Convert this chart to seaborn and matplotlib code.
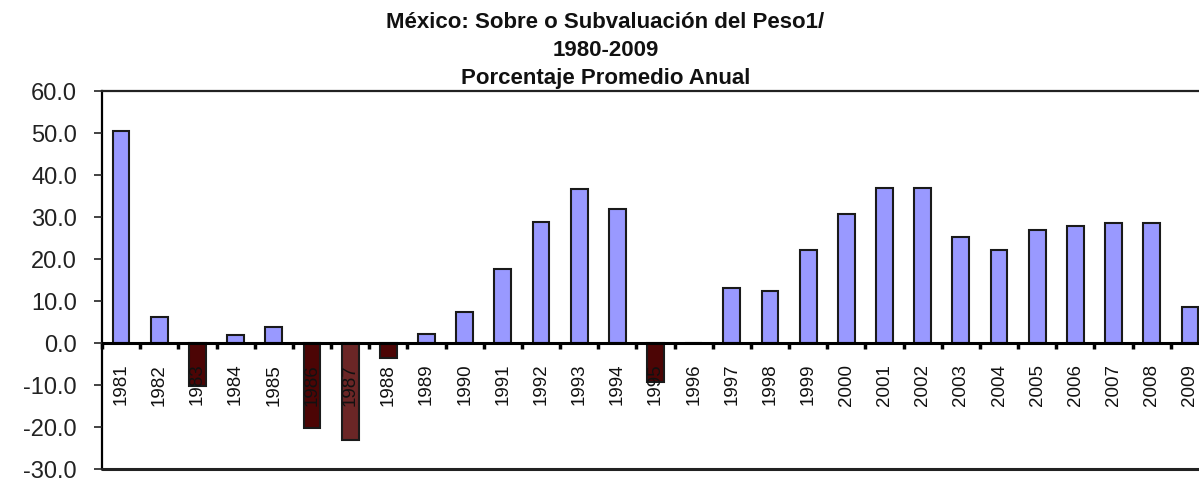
import matplotlib
matplotlib.use("Agg")
import matplotlib.pyplot as plt
import seaborn as sns
import pandas as pd
from matplotlib.ticker import FixedLocator, FormatStrFormatter

years = [str(y) for y in range(1981, 2010)]
values = [50.5, 6.2, -10.2, 1.8, 3.8, -20.3, -23.1, -3.6, 2.1, 7.3,
          17.7, 28.8, 36.6, 31.8, -9.3, 0.0, 13.0, 12.3, 22.1, 30.7,
          37.0, 37.0, 25.2, 22.2, 27.0, 27.8, 28.5, 28.5, 8.6]
title_lines = ["México: Sobre o Subvaluación del Peso1/", "1980-2009", "Porcentaje Promedio Anual"]
yticks = [-30, -20, -10, 0, 10, 20, 30, 40, 50, 60]

pos_color = "#9999FF"
neg_color = "#4C0505"
neg_color_alt = "#6B2626"
colors = {}
for y, v in zip(years, values):
    if v >= 0:
        colors[y] = pos_color
    elif y == "1987":
        colors[y] = neg_color_alt
    else:
        colors[y] = neg_color

df = pd.DataFrame({"year": years, "value": values})

sns.set_style("white")
plt.rcParams["font.family"] = ["Liberation Sans", "DejaVu Sans"]

fig = plt.figure(figsize=(11.99, 4.78), dpi=100)
ax = fig.add_axes([102 / 1199, 1 - 469 / 478, 1107 / 1199, (469 - 91) / 478])

sns.barplot(data=df, x="year", y="value", hue="year", palette=colors,
            legend=False, width=0.44, edgecolor="#1a1a1a", linewidth=1.5,
            ax=ax, saturation=1)
ax.set_axisbelow(False)

ax.set_xlim(-0.5, len(years) - 0.5)
ax.set_ylim(-30, 60)
ax.set_yticks(yticks)
ax.yaxis.set_major_formatter(FormatStrFormatter("%.1f"))
ax.tick_params(axis="y", which="major", direction="out", length=6, width=1.2,
               pad=12, labelsize=17, colors="#222222", left=True)
ax.set_xlabel("")
ax.set_ylabel("")

# x axis on the zero line
ax.spines["bottom"].set_position(("data", 0))
ax.spines["bottom"].set_linewidth(2.2)
ax.spines["bottom"].set_color("black")
ax.spines["left"].set_linewidth(1.6)
ax.spines["left"].set_color("black")
ax.spines["top"].set_linewidth(1.6)
ax.spines["top"].set_color("#222222")
ax.spines["right"].set_visible(True)
ax.spines["right"].set_color("#222222")
ax.axhline(-30, color="#222222", lw=2.2, clip_on=False, zorder=3)

ax.set_xticks(range(len(years)))
ax.set_xticklabels(years, rotation=90, fontsize=13.5, va="top", ha="center")
ax.tick_params(axis="x", which="major", length=0, pad=15, colors="#111111")
ax.xaxis.set_minor_locator(FixedLocator([i + 0.5 for i in range(-1, len(years))]))
ax.tick_params(axis="x", which="minor", direction="out", length=4, width=2.5,
               color="black", bottom=True)

fig.text(0.505, 1 - 12 / 478, "\n".join(title_lines), ha="center", va="top",
         fontsize=16, fontweight="bold", linespacing=1.45, color="#111111")

fig.savefig("out.png", dpi=100, facecolor="white")
